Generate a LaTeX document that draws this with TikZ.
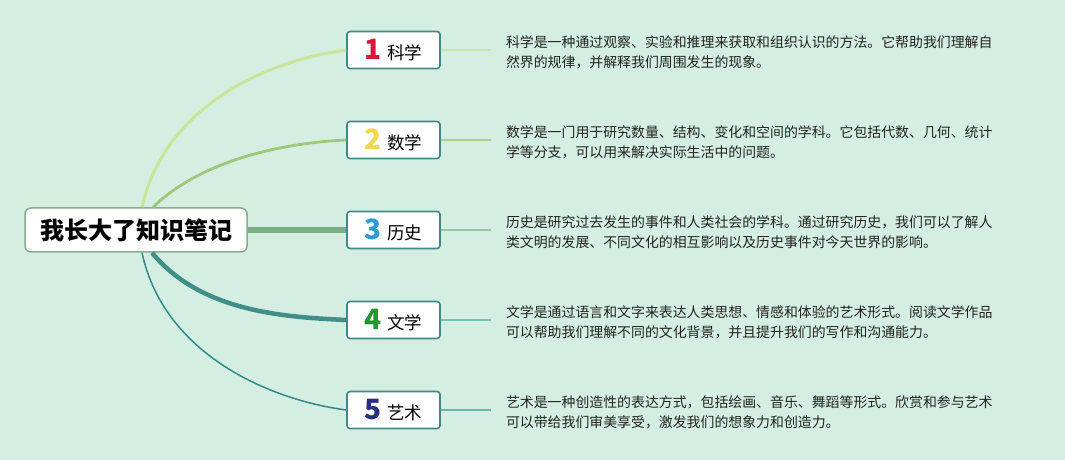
\documentclass[tikz,border=0pt]{standalone}
\usepackage{fontspec}
\setmainfont{Liberation Sans}
\newfontfamily\cjk{Noto Sans CJK SC}
\usetikzlibrary{positioning,calc}
\definecolor{bgmint}{HTML}{D4EFE1}
\definecolor{rootline}{HTML}{86AE8A}
\definecolor{boxline}{HTML}{3F8A88}
\definecolor{notetext}{HTML}{222222}
\definecolor{branch1}{HTML}{C8E59A}
\definecolor{branch2}{HTML}{9DC97C}
\definecolor{branch3}{HTML}{78AD86}
\definecolor{branch4}{HTML}{3F8F87}
\definecolor{branch5}{HTML}{2F8A8A}
\definecolor{tail1}{HTML}{C8E6A8}
\definecolor{tail2}{HTML}{A9D18C}
\definecolor{tail3}{HTML}{96C7A0}
\definecolor{tail4}{HTML}{7CBFB5}
\definecolor{tail5}{HTML}{66B5AF}
\definecolor{num1}{HTML}{D8163A}
\definecolor{num2}{HTML}{F2D64B}
\definecolor{num3}{HTML}{2C9BDA}
\definecolor{num4}{HTML}{23962F}
\definecolor{num5}{HTML}{27307F}
\newcommand{\topicnum}[2]{{\color{#1}\fontsize{28}{28}\selectfont\bfseries #2}\hspace{5pt}}

\begin{document}
\begin{tikzpicture}[x=1pt,y=1pt,
  rootbox/.style={draw=rootline,line width=1.5pt,fill=white,rounded corners=6pt,
    minimum width=222pt,minimum height=44pt,inner sep=0pt,
    font=\cjk\bfseries\fontsize{24}{24}\selectfont},
  topic/.style={draw=boxline,line width=1.6pt,fill=white,rounded corners=3pt,
    minimum width=93pt,minimum height=37pt,inner sep=0pt,
    font=\cjk\fontsize{17.5}{20}\selectfont},
  note/.style={inner sep=0pt,align=left,text=notetext,
    font=\cjk\fontsize{13.9}{20}\selectfont},
  tail/.style={line width=1.5pt}]
  \fill[bgmint] (0,0) rectangle (1065,460);
  \useasboundingbox (0,0) rectangle (1065,460);

  % centre and topics
  \node[rootbox] (root) at (136,230) {我长大了知识笔记};
  \node[topic] (b1) at (393.5,410) {\topicnum{num1}{1}科学};
  \node[topic] (b2) at (393.5,320) {\topicnum{num2}{2}数学};
  \node[topic] (b3) at (393.5,230) {\topicnum{num3}{3}历史};
  \node[topic] (b4) at (393.5,140) {\topicnum{num4}{4}文学};
  \node[topic] (b5) at (393.5,50)  {\topicnum{num5}{5}艺术};

  % notes
  \node[note,right=65pt of b1,yshift=-2pt] (d1)
    {科学是一种通过观察、实验和推理来获取和组织认识的方法。它帮助我们理解自\\然界的规律，并解释我们周围发生的现象。};
  \node[note,right=65pt of b2,yshift=-2pt] (d2)
    {数学是一门用于研究数量、结构、变化和空间的学科。它包括代数、几何、统计\\学等分支，可以用来解决实际生活中的问题。};
  \node[note,right=65pt of b3,yshift=-2pt] (d3)
    {历史是研究过去发生的事件和人类社会的学科。通过研究历史，我们可以了解人\\类文明的发展、不同文化的相互影响以及历史事件对今天世界的影响。};
  \node[note,right=65pt of b4,yshift=-2pt] (d4)
    {文学是通过语言和文字来表达人类思想、情感和体验的艺术形式。阅读文学作品\\可以帮助我们理解不同的文化背景，并且提升我们的写作和沟通能力。};
  \node[note,right=65pt of b5,yshift=-2pt] (d5)
    {艺术是一种创造性的表达方式，包括绘画、音乐、舞蹈等形式。欣赏和参与艺术\\可以带给我们审美享受，激发我们的想象力和创造力。};

  % branches
  \draw[branch1,line width=3pt] ([xshift=6pt]root.north)
    .. controls +(23,103) and +(-76,-10) .. (b1.west);
  \draw[branch2,line width=2.8pt] ([xshift=17pt]root.north)
    .. controls +(47,46) and +(-66,-3) .. (b2.west);
  \draw[branch3,line width=6pt] (root.east) -- (b3.west);
  \draw[branch4,line width=4.5pt] ([xshift=16pt]root.south)
    .. controls +(48,-58) and +(-66,3) .. (b4.west);
  \draw[branch5,line width=1.5pt] ([xshift=6pt]root.south)
    .. controls +(22,-102) and +(-76,10) .. (b5.west);

  % tails
  \foreach \i in {1,...,5}
    \draw[tail,tail\i] (b\i.east) -- ([xshift=-15pt]d\i.west |- b\i.east);
\end{tikzpicture}
\end{document}
